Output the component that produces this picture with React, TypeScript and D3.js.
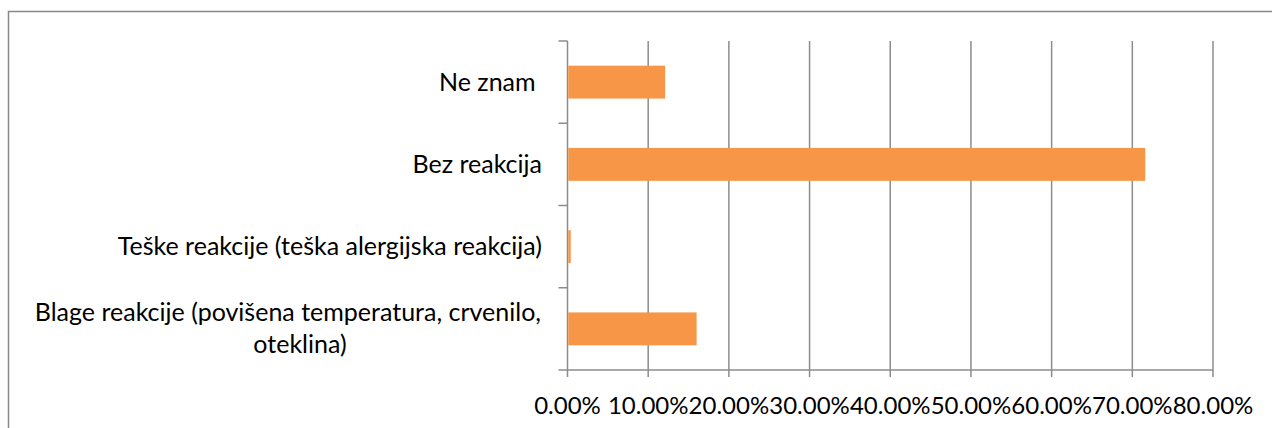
import React from "react";
import * as d3 from "d3";

const categories = [
  "Ne znam ",
  "Bez reakcija",
  "Teške reakcije (teška alergijska reakcija)",
  "Blage reakcije (povišena temperatura, crvenilo, oteklina)",
];
const labelLines: string[][] = [
  ["Ne znam "],
  ["Bez reakcija"],
  ["Teške reakcije (teška alergijska reakcija)"],
  ["Blage reakcije (povišena temperatura, crvenilo,", "oteklina)"],
];
const values = [0.121, 0.716, 0.004, 0.16];
const xTicks = [0, 0.1, 0.2, 0.3, 0.4, 0.5, 0.6, 0.7, 0.8];

const W = 1272;
const H = 428;
const FONT = "Lato, 'Open Sans', sans-serif";
const FS = 24;
const FS_CAT = 25;
const GRID = "#8c8c8c";
const BAR = "#F79646";

export default function App() {
  const left = 567.5;
  const right = 1213;
  const top = 41;
  const bottom = 370;
  const x = d3.scaleLinear().domain([0, 0.8]).range([left, right]);
  const y = d3
    .scaleBand<string>()
    .domain(categories)
    .range([top, bottom])
    .paddingInner(0.6)
    .paddingOuter(0.3);
  const step = (bottom - top) / categories.length;
  const bounds = d3.range(categories.length + 1).map((i) => top + i * step);

  return (
    <svg
      width={W}
      height={H}
      style={{ position: "absolute", left: 0, top: 0, display: "block" }}
    >
      <rect x={0} y={0} width={W} height={H} fill="#fff" />
      <rect
        x={8.5}
        y={11.5}
        width={W + 20}
        height={H + 20}
        fill="none"
        stroke="#888"
        strokeWidth={1.5}
      />
      {xTicks.map((t) => (
        <line
          key={"g" + t}
          x1={x(t)}
          x2={x(t)}
          y1={top}
          y2={bottom + 7}
          stroke={GRID}
          strokeWidth={1.5}
        />
      ))}
      {bounds.map((b, i) => (
        <line
          key={"yt" + i}
          x1={left - 9}
          x2={left}
          y1={b}
          y2={b}
          stroke={GRID}
          strokeWidth={1.5}
        />
      ))}
      <line x1={left} x2={right} y1={bottom} y2={bottom} stroke={GRID} strokeWidth={1.5} />
      {categories.map((c, i) => (
        <rect
          key={"b" + i}
          x={x(0) + 0.75}
          y={y(c)!}
          width={Math.max(0, x(values[i]) - x(0) - 0.75)}
          height={y.bandwidth()}
          fill={BAR}
        />
      ))}
      {categories.map((c, i) => {
        const cy = y(c)! + y.bandwidth() / 2;
        const lines = labelLines[i];
        if (lines.length === 1) {
          return (
            <text
              key={"l" + i}
              x={542}
              y={cy + 8.5}
              textAnchor="end"
              fontFamily={FONT}
              fontSize={FS_CAT}
              fill="#000"
              style={{ whiteSpace: "pre" }}
            >
              {lines[0]}
            </text>
          );
        }
        return (
          <g key={"l" + i} fontFamily={FONT} fontSize={FS_CAT} fill="#000">
            <text x={541} y={cy - 8} textAnchor="end">
              {lines[0]}
            </text>
            <text x={300} y={cy + 24} textAnchor="middle">
              {lines[1]}
            </text>
          </g>
        );
      })}
      {xTicks.map((t) => (
        <text
          key={"xt" + t}
          x={x(t)}
          y={414}
          textAnchor="middle"
          fontFamily={FONT}
          fontSize={FS}
          fill="#000"
        >
          {d3.format(".2%")(t)}
        </text>
      ))}
    </svg>
  );
}
